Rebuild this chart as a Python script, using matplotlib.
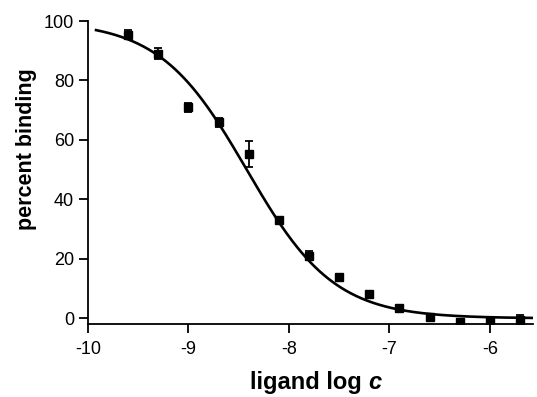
import numpy as np
import matplotlib
matplotlib.use("Agg")
import matplotlib.pyplot as plt

# Data
log_c = [-9.6, -9.3, -9.0, -8.7, -8.4, -8.1, -7.8, -7.5, -7.2, -6.9, -6.6, -6.3, -6.0, -5.7]
binding = [95.4, 89.0, 71.0, 65.9, 55.3, 33.1, 21.1, 13.9, 8.2, 3.4, 0.3, -1.1, -1.0, -0.5]
binding_err = [1.5, 1.8, 1.5, 1.5, 4.4, 0.8, 1.5, 0.8, 0.8, 0.8, 0.8, 0.8, 1.2, 1.5]

# Fitted sigmoidal dose-response parameters
fit_top = 100.0
fit_bottom = 0.0
fit_log_ic50 = -8.42
fit_hill = 1.0
fit_range = (-9.92, -5.57)

x_ticks = [-10, -9, -8, -7, -6]
y_ticks = [0, 20, 40, 60, 80, 100]

plt.rcParams['font.family'] = ['Liberation Sans', 'DejaVu Sans']

fig = plt.figure(figsize=(5.37, 3.97), dpi=100)
ax = fig.add_axes([88/537, 73/397, 445/537, 303/397])

xc = np.linspace(fit_range[0], fit_range[1], 400)
yc = fit_bottom + (fit_top - fit_bottom) / (1 + 10 ** ((xc - fit_log_ic50) * fit_hill))
ax.plot(xc, yc, color='black', lw=1.9, zorder=2)

ax.errorbar(log_c, binding, yerr=binding_err, fmt='s', color='black', ms=5.2,
            ecolor='black', elinewidth=1.3, capsize=3.2, capthick=1.3, zorder=3)

ax.set_xlim(-10, -5.57)
ax.set_ylim(-1.9, 100)
ax.set_xticks(x_ticks)
ax.set_xticklabels([str(t) for t in x_ticks])
ax.set_yticks(y_ticks)
ax.set_yticklabels([str(t) for t in y_ticks])

for s in ['top', 'right']:
    ax.spines[s].set_visible(False)
for s in ['left', 'bottom']:
    ax.spines[s].set_linewidth(1.3)
ax.tick_params(axis='both', which='major', length=6.5, width=1.3, labelsize=13,
               direction='out', color='black')
ax.tick_params(axis='x', pad=5.5)
ax.tick_params(axis='y', pad=3.5)

ax.set_ylabel('percent binding', fontsize=15.5, fontweight='bold')
ax.yaxis.set_label_coords(-0.115, 0.578)

t1 = fig.text(0.5, 0.012, 'ligand log ', fontsize=17, fontweight='bold',
              ha='right', va='baseline')
t2 = ax.annotate('c', xy=(1, 0), xycoords=t1, fontsize=17, fontweight='bold',
                 fontstyle='italic', ha='left', va='bottom')

fig.canvas.draw()
r = fig.canvas.get_renderer()
w1 = t1.get_window_extent(r).width
w2 = t2.get_window_extent(r).width
center_px = 316
left_px = center_px - (w1 + w2) / 2
t1.set_position(((left_px + w1) / 537, 8 / 397))

fig.savefig('out.png', dpi=100)
